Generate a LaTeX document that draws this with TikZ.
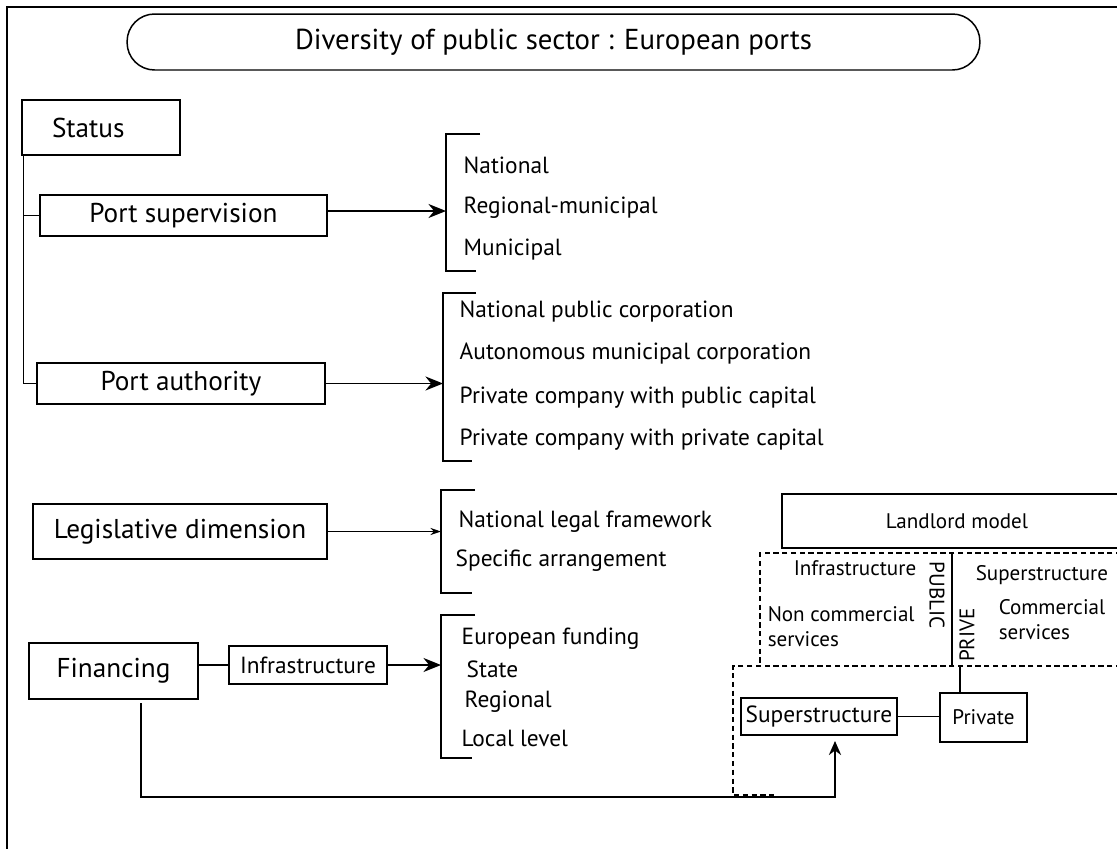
\documentclass[tikz,border=0pt]{standalone}
\usepackage{fontspec}
\setmainfont{PT Sans}
\usetikzlibrary{arrows.meta}

\begin{document}
\begin{tikzpicture}[
    x=0.02cm, y=-0.02cm,
    line width=0.85pt,
    box/.style     ={draw, inner sep=0pt, align=center, font=\fontsize{15.5}{18}\selectfont},
    midbox/.style  ={draw, inner sep=0pt, align=center, font=\fontsize{13.3}{16}\selectfont},
    lmbox/.style   ={draw, inner sep=0pt, align=center, font=\fontsize{12}{14.2}\selectfont},
    item/.style    ={anchor=west, inner sep=0pt, font=\fontsize{13.3}{16}\selectfont},
    lmtext/.style  ={inner sep=0pt, align=left, font=\fontsize{12}{14.2}\selectfont},
    arrow/.style   ={-{Stealth[length=10pt, width=8pt]}},
    thinarrow/.style={-{Stealth[length=6pt, width=4pt]}},
    zone/.style    ={dash pattern=on 3pt off 2pt, line width=0.6pt},
]
\useasboundingbox (0,0) rectangle (1117,849);

% ── Frame and title ─────────────────────────────────────────────────────
\draw[line width=0.6pt] (1117,7) -- (7,7) -- (7,849);
\node[box, font=\fontsize{16.4}{19}\selectfont, rounded corners=0.55cm,
      minimum width=17.06cm, minimum height=1.12cm] (title)
      at (553.5,42) {Diversity of public sector~: European ports};

% ── Status ──────────────────────────────────────────────────────────────
\node[box, inner xsep=0.6cm, text width=1.96cm, align=left, minimum height=1.1cm]
      (status) at (101,127.5) {Status};
\node[box, minimum width=5.74cm, minimum height=0.82cm] (sup)    at (183.5,215.5) {Port supervision};
\node[box, minimum width=5.76cm, minimum height=0.82cm] (auth)   at (181,383.5) {Port authority};

\node[item] (natl)   at (463,165) {National};
\node[item] (regm)   at (463,208) {Regional-municipal};
\node[item] (muni)   at (463,250) {Municipal};

\node[item] (npc)    at (459,312) {National public corporation};
\node[item] (amc)    at (459,354) {Autonomous municipal corporation};
\node[item] (pcpub)  at (459,398) {Private company with public capital};
\node[item] (pcpriv) at (459,440) {Private company with private capital};

% ── Legislative dimension ───────────────────────────────────────────────
\node[box, minimum width=5.88cm, minimum height=1.1cm] (legis) at (180,531.5) {Legislative dimension};

\node[item] (nlf)    at (458,522) {National legal framework};
\node[item] (spa)    at (455,561) {Specific arrangement};

% ── Financing ───────────────────────────────────────────────────────────
\node[box,    minimum width=3.38cm, minimum height=1.12cm] (fin)    at (113.5,671) {Financing};
\node[midbox, minimum width=3.16cm, minimum height=0.76cm] (finfra) at (308,665)   {Infrastructure};

\node[item] (euf)    at (461,639) {European funding};
\node[item] (state)  at (466,669) {State};
\node[item] (regl)   at (464,702) {Regional};
\node[item] (locl)   at (461,738) {Local level};

% ── Landlord model ──────────────────────────────────────────────────────
\node[lmbox, minimum width=7cm, minimum height=1.08cm] (landlord) at (957,521) {Landlord model};

\node[lmtext, anchor=west] (infra)   at (793,568) {Infrastructure};
\node[lmtext, anchor=west] (noncom)  at (767,627) {Non commercial\\services};
\node[lmtext, rotate=-90]  (public)  at (937,595) {PUBLIC};
\node[lmtext, rotate=90]   (prive)   at (967,635) {PRIVE};
\node[lmtext, anchor=west] (superst) at (975,575) {Superstructure};
\node[lmtext, anchor=west] (comm)    at (998,620) {Commercial\\services};

\node[midbox, minimum width=3.12cm, minimum height=0.74cm] (superbox) at (819,716.5)  {Superstructure};
\node[lmbox,  minimum width=1.74cm, minimum height=0.98cm] (private)  at (983.5,717.5) {Private};

% ── Brackets ────────────────────────────────────────────────────────────
\coordinate (brsup)  at (446,211);
\coordinate (brauth) at (443,384);
\coordinate (brleg)  at (441,531);
\coordinate (brfin)  at (441,664);
\draw (480,134) -| (446,271) -- (476,271);
\draw (476,293) -| (443,461) -- (472,461);
\draw (475,490) -| (441,593) -- (472,593);
\draw (475,615) -| (441,758) -- (472,758);

% ── Dashed zones ────────────────────────────────────────────────────────
\draw[zone] (1130,553) -| (760,666);
\draw[zone] (1130,666) -- (733,666) -- (733,795) -- (778,795);
\draw (952,553) -- (952,667);

% ── Connectors ──────────────────────────────────────────────────────────
\draw ([xshift=0.04cm]status.south west) coordinate (spine) |- (auth.west);
\draw (sup.west) -- (sup.west -| spine);
\draw[arrow] (sup.east |- brsup) -- (brsup);
\draw[arrow] (auth.east) -- (auth.east -| brauth);
\draw[thinarrow] (legis.east) -- (legis.east -| brleg);
\draw (fin.east |- finfra) -- (finfra.west);
\draw[arrow] (finfra.east) -- (finfra.east -| brfin);

\coordinate (loopturn) at (835,797);
\draw[-{Stealth[length=8pt, width=7pt]}, shorten >=3pt]
      ([xshift=0.55cm, yshift=-2pt]fin.south) |- (loopturn) -- (loopturn |- superbox.south);
\draw (superbox.east) -- (superbox.east -| private.west);
\coordinate (privtap) at (960,667);
\draw (privtap) -- (privtap |- private.north);

\end{tikzpicture}
\end{document}
